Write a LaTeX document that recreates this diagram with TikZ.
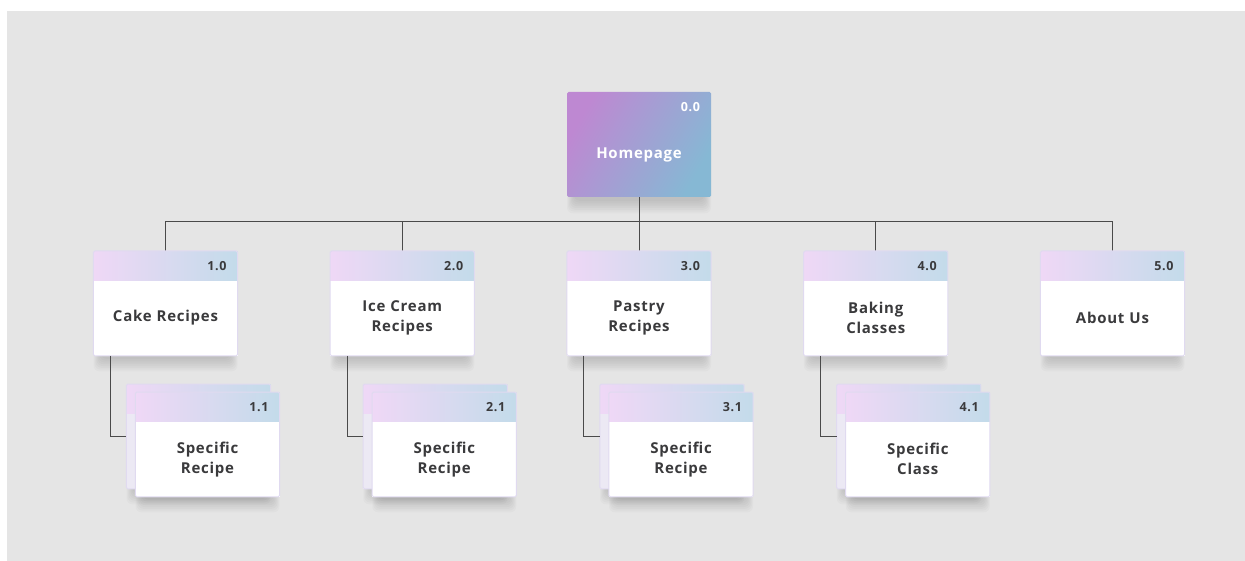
\documentclass[tikz,border=0pt]{standalone}
\usepackage{fontspec}
\usepackage{tikz}
\usetikzlibrary{calc}
\newfontfamily\cardfont{Open Sans}[LetterSpace=5]
\definecolor{paper}{HTML}{E5E5E5}
\definecolor{ink}{HTML}{3A3A3C}
\definecolor{wire}{HTML}{4A4A4A}
\definecolor{headl}{HTML}{EFD8F6}
\definecolor{headr}{HTML}{C3DBEA}
\definecolor{homel}{HTML}{BE88D2}
\definecolor{homer}{HTML}{86B8D4}
\definecolor{rim}{HTML}{E0DAF0}
\definecolor{backfill}{HTML}{ECE9F4}

\tikzset{
  link/.style={draw=wire, line width=1pt},
  pagehead/.style={anchor=north, minimum width=144pt, minimum height=29pt,
    inner xsep=11pt, inner ysep=0pt, text width=122pt, align=right,
    left color=headl, right color=headr, text=ink,
    font=\cardfont\bfseries\fontsize{12.5}{14}\selectfont},
  pagebody/.style={anchor=north, minimum width=144pt, minimum height=75pt,
    inner xsep=6pt, text width=132pt, align=center, fill=white, text=ink,
    font=\cardfont\bfseries\fontsize{15}{20}\selectfont},
  pageedge/.style={draw=rim, line width=1pt, rounded corners=1.5pt},
  homebox/.style={minimum width=144pt, minimum height=105pt, inner sep=0pt,
    left color=homel, right color=homer, shading angle=60,
    rounded corners=1.5pt},
}

% name, centre x, top y, number, text
\newcommand{\page}[6][]{%
  \foreach \k in {1,...,8}
    \fill[black, opacity=.02, rounded corners=6pt]
      ({#3-64-\k},{#4+26}) rectangle ({#3+64+\k},{#4+106+1.8*\k});
  \node[pagehead] (#2h) at (#3,#4) {#5};
  \node[pagebody,#1] (#2) at (#2h.south) {#6};
  \draw[pageedge] (#2h.north west) rectangle (#2.south east);
}

\begin{document}
\begin{tikzpicture}[x=1pt, y=-1pt]
\useasboundingbox (0,0) rectangle (1245,561);
\fill[paper] (7,11) rectangle (1245,561);

% home page
\foreach \k in {1,...,8}
  \fill[black, opacity=.02, rounded corners=6pt]
    ({639-64-\k},{118}) rectangle ({639+64+\k},{199+1.8*\k});
\node[homebox] (home) at (639,144.5) {};
\node[text=white, inner sep=0pt, anchor=east,
  font=\cardfont\bfseries\fontsize{12.5}{14}\selectfont]
  (homenum) at ([xshift=-11pt,yshift=-15pt]home.north east) {0.0};
\node[text=white, inner sep=0pt,
  font=\cardfont\bfseries\fontsize{15}{18}\selectfont]
  (homelabel) at ([yshift=-10pt]home.center) {Homepage};

% connectors first
\coordinate (bus) at (639,222);
\draw[link] (home.south) -- (bus);
\foreach \x in {165.5,402.25,875.75,1112.5}
  \draw[link] (bus) -| (\x,251);
\draw[link] (bus) -- (639,251);

% top level pages
\page{cake}{165.5}{251}{1.0}{Cake Recipes}
\page{icecream}{402.25}{251}{2.0}{Ice Cream\\Recipes}
\page{pastry}{639}{251}{3.0}{Pastry\\Recipes}
\page{baking}{875.75}{251}{4.0}{Baking\\Classes}
\page{about}{1112.5}{251}{5.0}{About Us}

% second level, stacked
\page[fill=backfill]{r1b}{198.5}{384}{}{}
\page[fill=backfill]{r2b}{435.25}{384}{}{}
\page[fill=backfill]{r3b}{672}{384}{}{}
\page[fill=backfill]{r4b}{908.75}{384}{}{}

\foreach \p/\c in {cake/r1b,icecream/r2b,pastry/r3b,baking/r4b}
  \draw[link] ([xshift=17pt]\p.south west) |- ($(\c h.north west)!.5!(\c.south west)$);

\page{r1}{207.5}{392}{1.1}{Specific\\Recipe}
\page{r2}{444.25}{392}{2.1}{Specific\\Recipe}
\page{r3}{681}{392}{3.1}{Specific\\Recipe}
\page{r4}{917.75}{392}{4.1}{Specific\\Class}
\end{tikzpicture}
\end{document}
